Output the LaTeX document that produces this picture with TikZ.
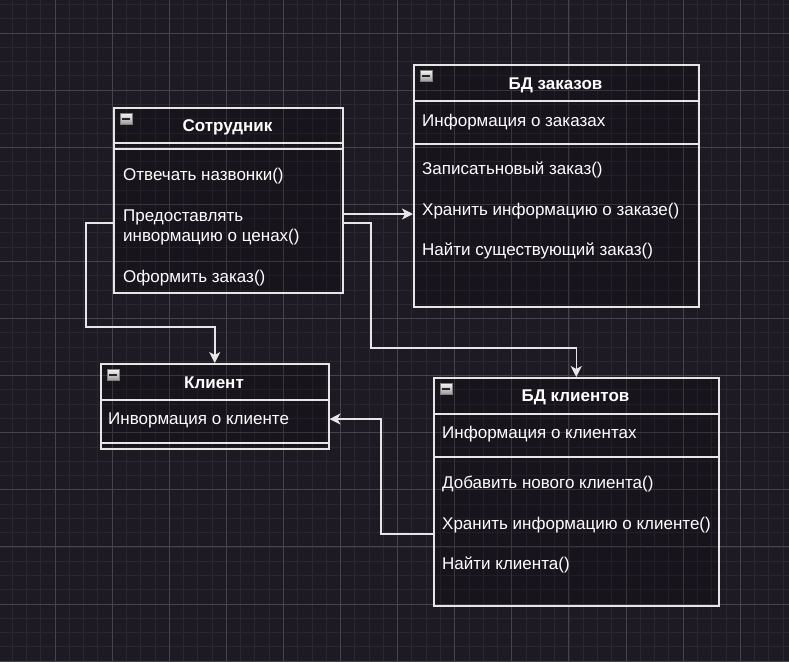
\documentclass[tikz,border=0pt]{standalone}
\usepackage{fontspec}
\setmainfont{Liberation Sans}
\usetikzlibrary{arrows.meta}
\definecolor{bgcol}{HTML}{1D1A24}
\definecolor{minorcol}{HTML}{2A2731}
\definecolor{majorcol}{HTML}{46434D}
\definecolor{linecol}{HTML}{E6E6E6}

\begin{document}
\begin{tikzpicture}[x=1pt, y=-1pt,
	classbox/.style={rectangle, draw=linecol, line width=1.5pt, fill=black, fill opacity=0.2, anchor=north west, inner sep=0pt},
	title/.style={text=white, inner sep=0pt, font=\fontsize{17}{20}\selectfont\bfseries},
	member/.style={text=white, anchor=west, align=left, inner sep=0pt, font=\fontsize{17}{20}\selectfont},
	sep/.style={draw=linecol, line width=1.5pt},
	link/.style={draw=linecol, line width=1.5pt, -{Stealth[length=11pt, width=11pt, inset=3pt]}},
	icon/.style={rectangle, draw=gray, line width=0.5pt, top color=white!90!gray, bottom color=gray!80, minimum width=12pt, minimum height=11pt, inner sep=0pt,
		path picture={\draw[black!85, line width=1.6pt] ([xshift=2pt]path picture bounding box.west) -- ([xshift=-2pt]path picture bounding box.east);}}]
	\fill[bgcol] (0,0) rectangle (789,662);
	\useasboundingbox (0,0) rectangle (789,662);
	\begin{scope}
		\clip (0,0) rectangle (789,662);
		\foreach \k in {0,...,55} {
			\draw[minorcol, line width=0.8pt] (12.175+14.275*\k,0) -- (12.175+14.275*\k,662);
		}
		\foreach \k in {0,...,46} {
			\draw[minorcol, line width=0.8pt] (0,4.45+14.275*\k) -- (789,4.45+14.275*\k);
		}
		\foreach \k in {0,...,14} {
			\draw[majorcol, line width=1pt] (-2.1+57.1*\k,0) -- (-2.1+57.1*\k,662);
		}
		\foreach \k in {0,...,12} {
			\draw[majorcol, line width=1pt] (0,-24.1+57.1*\k) -- (789,-24.1+57.1*\k);
		}
	\end{scope}

	\node[classbox, minimum width=229, minimum height=185] (emp) at (113,107) {};
	\node[classbox, minimum width=285, minimum height=242] (ordDB) at (413,64) {};
	\node[classbox, minimum width=228, minimum height=85] (cli) at (100,363) {};
	\node[classbox, minimum width=285, minimum height=228] (cliDB) at (433,377) {};

	\draw[sep] (emp.west |- 0,143) -- (emp.east |- 0,143);
	\draw[sep] (emp.west |- 0,149) -- (emp.east |- 0,149);
	\draw[sep] (ordDB.west |- 0,101) -- (ordDB.east |- 0,101);
	\draw[sep] (ordDB.west |- 0,144) -- (ordDB.east |- 0,144);
	\draw[sep] (cli.west |- 0,400) -- (cli.east |- 0,400);
	\draw[sep] (cli.west |- 0,443) -- (cli.east |- 0,443);
	\draw[sep] (cliDB.west |- 0,414) -- (cliDB.east |- 0,414);
	\draw[sep] (cliDB.west |- 0,457) -- (cliDB.east |- 0,457);

	\foreach \b in {emp, ordDB, cli, cliDB} {
		\node[icon] (\b-icon) at ([xshift=13pt, yshift=-12pt]\b.north west) {};
	}

	\node[title] (emp-title) at (227.5,127) {Сотрудник};
	\node[member] (emp-m1) at (123,176) {Отвечать назвонки()};
	\node[member] (emp-m2) at (123,227) {Предоставлять\\инвормацию о ценах()};
	\node[member] (emp-m3) at (123,278) {Оформить заказ()};

	\node[title] (ordDB-title) at (555.5,85) {БД заказов};
	\node[member] (ordDB-a1) at (422,122) {Информация о заказах};
	\node[member] (ordDB-m1) at (422,170) {Записатьновый заказ()};
	\node[member] (ordDB-m2) at (422,211) {Хранить информацию о заказе()};
	\node[member] (ordDB-m3) at (422,251) {Найти существующий заказ()};

	\node[title] (cli-title) at (214,383) {Клиент};
	\node[member] (cli-a1) at (108,420) {Инвормация о клиенте};

	\node[title] (cliDB-title) at (575.5,397) {БД клиентов};
	\node[member] (cliDB-a1) at (442,434) {Информация о клиентах};
	\node[member] (cliDB-m1) at (442,484) {Добавить нового клиента()};
	\node[member] (cliDB-m2) at (442,525) {Хранить информацию о клиенте()};
	\node[member] (cliDB-m3) at (442,565) {Найти клиента()};

	\draw[link] (emp.east |- 0,214) -- (ordDB.west |- 0,214);
	\draw[link] (emp.west |- 0,223) -| (86,327) -| (cli.north);
	\draw[link] (emp.east |- 0,223) -| (371,348) -| (cliDB.north);
	\draw[link] (cliDB.west |- 0,534) -| (381,419) -- (cli.east |- 0,419);
\end{tikzpicture}
\end{document}
